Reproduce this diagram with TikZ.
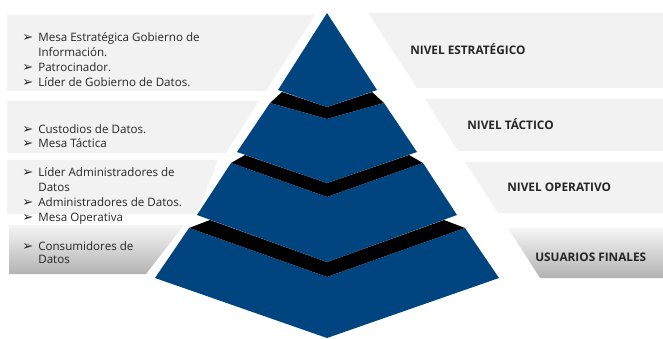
\documentclass[tikz,border=0pt]{standalone}
\usepackage{fontspec}
\setmainfont{Open Sans}
\newfontfamily\symf{DejaVu Sans}
\usetikzlibrary{positioning}

\definecolor{pyrblue}{HTML}{00457F}
\definecolor{panelgray}{HTML}{F2F2F2}
\definecolor{txtgray}{HTML}{262626}
\newcommand{\bul}{\makebox[16pt][l]{\symf\fontsize{13}{13}\selectfont ➢}}
\newcommand{\ind}{\hspace*{16pt}}

\begin{document}
\begin{tikzpicture}[
  x = 1pt,
  y = -1pt,
  semithick
  ]

  \tikzstyle{panel}=[fill = panelgray]
  \tikzstyle{shadepanel}=[top color = gray!8, bottom color = gray!60]
  \tikzstyle{tier}=[fill = pyrblue]
  \tikzstyle{band}=[fill = black]
  \tikzstyle{items}=[
  anchor = base west,
  align = left,
  inner sep = 0pt,
  text = txtgray,
  font = \fontsize{11.6}{15}\selectfont
  ]
  \tikzstyle{level}=[
  anchor = base west,
  inner sep = 0pt,
  text = txtgray,
  font = \bfseries\fontsize{11.8}{12}\selectfont
  ]

  \useasboundingbox (0,0) rectangle (663,339);

  % left panels
  \path[panel] (7,15) -- (315,15) -- (266,91) -- (7,91) -- cycle;
  \path[panel] (7,101) -- (259,101) -- (226,153) -- (7,153) -- cycle;
  \path[panel] (7,160) -- (218,160) -- (197,214) -- (7,214) -- cycle;
  \path[shadepanel] (9,225) -- (184,225) -- (146,274) -- (9,274) -- cycle;

  % right panels
  \path[panel] (368,13) -- (663,13) -- (663,88) -- (417,88) -- cycle;
  \path[panel] (425,99) -- (663,99) -- (663,151) -- (458,151) -- cycle;
  \path[panel] (465,162) -- (663,162) -- (663,213) -- (498,213) -- cycle;
  \path[shadepanel] (508,228) -- (663,228) -- (663,278) -- (540,278) -- cycle;

  % pyramid
  \path[band] (270,103) -- (282,92) -- (327,107) -- (372,92) -- (384,103) -- (327,119) -- cycle;
  \path[band] (231,163) -- (245,155) -- (327,183) -- (409,155) -- (423,163) -- (327,197) -- cycle;
  \path[band] (189,228) -- (210,220) -- (327,262) -- (444,220) -- (465,228) -- (327,277) -- cycle;

  \path[tier] (327,13) -- (377,90) -- (327,107) -- (278,90) -- cycle;
  \path[tier] (270,103) -- (327,119) -- (384,103) -- (417,152) -- (327,183) -- (237,152) -- cycle;
  \path[tier] (231,163) -- (327,197) -- (423,163) -- (457,215) -- (327,262) -- (197,215) -- cycle;
  \path[tier] (189,228) -- (327,277) -- (465,228) -- (499,278) -- (327,338) -- (155,278) -- cycle;

  % texts (base = last line)
  \node[items] (strat) at (22,87) {\bul Mesa Estratégica Gobierno de\\ \ind Información.\\ \bul Patrocinador.\\ \bul Líder de Gobierno de Datos.};
  \node[items, font = \fontsize{11.6}{14}\selectfont] (tact) at (22,148) {\bul Custodios de Datos.\\ \bul Mesa Táctica};
  \node[items] (oper) at (22,221) {\bul Líder Administradores de\\ \ind Datos\\ \bul Administradores de Datos.\\ \bul Mesa Operativa};
  \node[items, font = \fontsize{11.6}{13}\selectfont] (users) at (22,263) {\bul Consumidores de\\ \ind Datos};

  \node[level] (lvlstrat) at (410,55) {NIVEL ESTRATÉGICO};
  \node[level] (lvltact) at (467,130) {NIVEL TÁCTICO};
  \node[level] (lvloper) at (507,191) {NIVEL OPERATIVO};
  \node[level] (lvlusers) at (535,261) {USUARIOS FINALES};

\end{tikzpicture}
\end{document}
